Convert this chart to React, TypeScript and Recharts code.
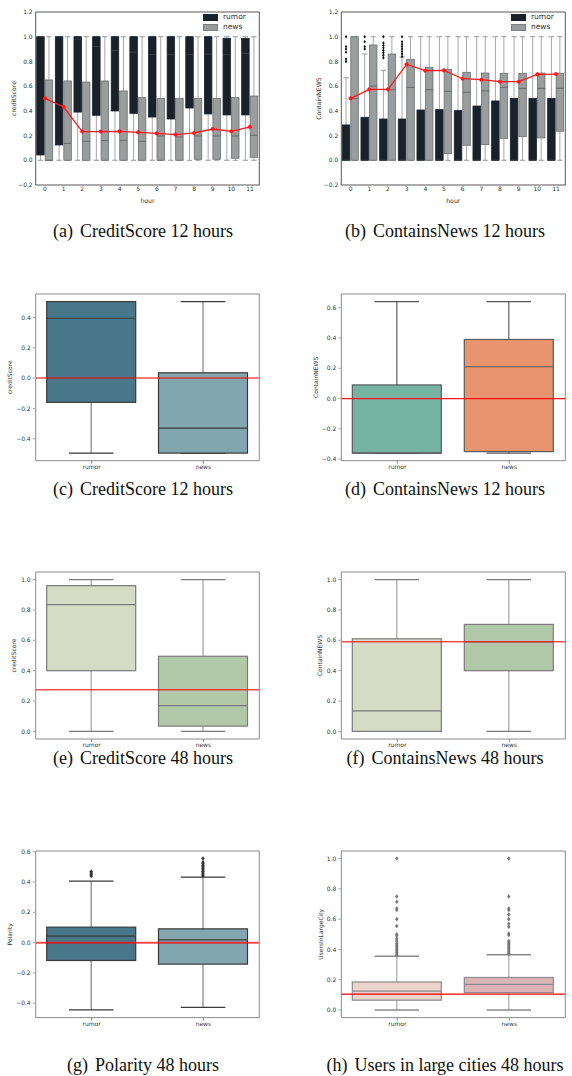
import React from 'react';
import { ComposedChart, Bar, Line, XAxis, YAxis, ReferenceLine, Legend } from 'recharts';

const FONT = '"DejaVu Sans", sans-serif';
const SERIF = '"Liberation Serif", "Times New Roman", serif';

// ---------- hourly panels (a) and (b) ----------
const HOURS = ['0', '1', '2', '3', '4', '5', '6', '7', '8', '9', '10', '11'];

// (a) creditScore over 12 hours
const A_RUMOR_LO = [0, 0, 0, 0, 0, 0, 0, 0, 0, 0, 0, 0];
const A_RUMOR_Q1 = [0.043, 0.124, 0.39, 0.364, 0.399, 0.38, 0.35, 0.334, 0.423, 0.375, 0.367, 0.367];
const A_RUMOR_MED = [1.0, 1.0, 0.98, 0.92, 0.89, 0.875, 0.855, 0.855, 0.855, 0.86, 0.855, 0.865];
const A_RUMOR_Q3 = [1, 1, 1, 1, 1, 1, 1, 1, 1, 1, 0.987, 0.987];
const A_RUMOR_HI = [1, 1, 1, 1, 1, 1, 1, 1, 1, 1, 1, 1];
const A_NEWS_LO = [0, 0, 0, 0, 0, 0, 0, 0, 0, 0, 0, 0];
const A_NEWS_Q1 = [0, 0, 0, 0, 0, 0, 0, 0, 0.008, 0.008, 0.016, 0.024];
const A_NEWS_MED = [0.0, 0.137, 0.154, 0.159, 0.162, 0.154, 0.197, 0.189, 0.197, 0.197, 0.197, 0.202];
const A_NEWS_Q3 = [0.65, 0.642, 0.633, 0.642, 0.561, 0.507, 0.501, 0.501, 0.501, 0.501, 0.507, 0.52];
const A_NEWS_HI = [1, 1, 1, 1, 1, 1, 1, 1, 1, 1, 1, 1];
const A_MEAN = [0.501, 0.431, 0.232, 0.232, 0.234, 0.226, 0.218, 0.208, 0.221, 0.253, 0.234, 0.27];

// (b) ContainNEWS over 12 hours
const B_RUMOR_LO = [0, 0, 0, 0, 0, 0, 0, 0, 0, 0, 0, 0];
const B_RUMOR_Q1 = [0, 0, 0, 0, 0, 0, 0, 0, 0, 0, 0, 0];
const B_RUMOR_MED = [0, 0, 0, 0, 0, 0, 0, 0, 0, 0, 0, 0];
const B_RUMOR_Q3 = [0.286, 0.348, 0.334, 0.334, 0.407, 0.41, 0.402, 0.439, 0.48, 0.501, 0.501, 0.501];
const B_RUMOR_HI = [0.668, 0.86, 0.728, 0.835, 1, 1, 1, 1, 1, 1, 1, 1];
const B_RUMOR_OUT = [
  [0.8, 0.82, 0.875, 0.9, 0.92, 1.0],
  [0.9, 0.92, 0.96, 1.0],
  [0.83, 0.85, 0.87, 0.89, 0.91, 0.93, 0.95, 1.0],
  [0.84, 0.86, 0.88, 0.9, 0.92, 0.94, 0.96, 1.0],
  [], [], [], [], [], [], [], [],
];
const B_NEWS_LO = [0, 0, 0, 0, 0, 0, 0, 0, 0, 0, 0, 0];
const B_NEWS_Q1 = [0, 0, 0, 0, 0, 0.054, 0.121, 0.127, 0.178, 0.191, 0.181, 0.235];
const B_NEWS_MED = [0.501, 0.601, 0.571, 0.59, 0.571, 0.558, 0.55, 0.561, 0.59, 0.582, 0.582, 0.582];
const B_NEWS_Q3 = [1.0, 0.933, 0.86, 0.817, 0.752, 0.736, 0.712, 0.706, 0.704, 0.704, 0.706, 0.704];
const B_NEWS_HI = [1, 1, 1, 1, 1, 1, 1, 1, 1, 1, 1, 1];
const B_MEAN = [0.501, 0.574, 0.574, 0.776, 0.725, 0.728, 0.66, 0.652, 0.636, 0.636, 0.695, 0.698];

const HOUR_TICKS = [-0.2, 0, 0.2, 0.4, 0.6, 0.8, 1.0, 1.2];

// ---------- two-group panels (c)-(h): [lo, q1, median, q3, hi] ----------
const GROUPS = ['rumor', 'news'];

const C_RUMOR = [-0.495, -0.16, 0.395, 0.505, 0.505];
const C_NEWS = [-0.495, -0.495, -0.33, 0.035, 0.505];
const C_REF = 0.0;
const C_TICKS = [-0.4, -0.2, 0, 0.2, 0.4];

const D_RUMOR = [-0.36, -0.36, -0.36, 0.09, 0.64];
const D_NEWS = [-0.36, -0.35, 0.21, 0.39, 0.64];
const D_REF = 0.0;
const D_TICKS = [-0.4, -0.2, 0, 0.2, 0.4, 0.6];

const E_RUMOR = [0, 0.4, 0.835, 0.96, 1.0];
const E_NEWS = [0, 0.035, 0.17, 0.495, 1.0];
const E_REF = 0.275;

const F_RUMOR = [0, 0, 0.135, 0.61, 1.0];
const F_NEWS = [0, 0.4, 0.59, 0.705, 1.0];
const F_REF = 0.59;

const UNIT_TICKS = [0, 0.2, 0.4, 0.6, 0.8, 1.0];

const G_RUMOR = [-0.444, -0.118, 0.043, 0.102, 0.406];
const G_NEWS = [-0.428, -0.142, 0.018, 0.091, 0.432];
const G_RUMOR_OUT = [0.44, 0.45, 0.46, 0.47];
const G_NEWS_OUT = [0.44, 0.45, 0.46, 0.47, 0.48, 0.49, 0.5, 0.51, 0.52, 0.53, 0.555];
const G_REF = 0.0;
const G_TICKS = [-0.4, -0.2, 0, 0.2, 0.4, 0.6];

const H_RUMOR = [0, 0.065, 0.125, 0.185, 0.355];
const H_NEWS = [0, 0.115, 0.17, 0.215, 0.365];
const H_RUMOR_OUT = [1.0, 0.75, 0.715, 0.67, 0.66, 0.6, 0.555, 0.5, 0.49, 0.47, 0.455, 0.44, 0.43, 0.42, 0.41, 0.4, 0.39, 0.38, 0.37, 0.36];
const H_NEWS_OUT = [1.0, 0.75, 0.67, 0.66, 0.63, 0.6, 0.57, 0.55, 0.505, 0.495, 0.455, 0.445, 0.435, 0.425, 0.415, 0.405, 0.395, 0.385, 0.375, 0.37];
const H_REF = 0.105;

// ---------- drawing helpers ----------
type Look = {
  fills: string[];
  edges: string[];
  medians: string[];
  whisker: string;
  cap: string;
  capFrac: number;
  whiskerW: number;
  edgeW: number;
  flier: string;
  flierR: number;
};

type Stats = { lo: number; q1: number; med: number; q3: number; hi: number; out: number[] };

const toStats = (s: number[], out: number[] = []): Stats => ({
  lo: s[0], q1: s[1], med: s[2], q3: s[3], hi: s[4], out,
});

const fmt = (v: number) => {
  const t = (Math.abs(v) < 1e-9 ? 0 : v).toFixed(1);
  return t.replace('-', '\u2212');
};

// the bar is a range [lo, hi]; box parts are placed on the same linear scale
const drawBox = (statsKey: string, look: Look, fixedColor?: number) => (props: any) => {
  const { x, y, width, height, payload, index } = props;
  const s: Stats = payload && payload[statsKey];
  if (!s || !isFinite(y) || !isFinite(height)) return <g />;
  const ci = fixedColor != null ? fixedColor : index;
  const top = Math.min(y, y + height);
  const bot = Math.max(y, y + height);
  const py = (v: number) => bot - ((v - s.lo) / (s.hi - s.lo)) * (bot - top);
  const cx = x + width / 2;
  const ch = (width * look.capFrac) / 2;
  const r = look.flierR;
  return (
    <g>
      <line x1={cx} x2={cx} y1={py(s.hi)} y2={py(s.q3)} stroke={look.whisker} strokeWidth={look.whiskerW} />
      <line x1={cx} x2={cx} y1={py(s.q1)} y2={py(s.lo)} stroke={look.whisker} strokeWidth={look.whiskerW} />
      <line x1={cx - ch} x2={cx + ch} y1={py(s.hi)} y2={py(s.hi)} stroke={look.cap} strokeWidth={look.whiskerW} />
      <line x1={cx - ch} x2={cx + ch} y1={py(s.lo)} y2={py(s.lo)} stroke={look.cap} strokeWidth={look.whiskerW} />
      <rect
        x={x}
        y={py(s.q3)}
        width={width}
        height={Math.max(0.5, py(s.q1) - py(s.q3))}
        fill={look.fills[ci]}
        stroke={look.edges[ci]}
        strokeWidth={look.edgeW}
      />
      <line x1={x} x2={x + width} y1={py(s.med)} y2={py(s.med)} stroke={look.medians[ci]} strokeWidth={look.edgeW} />
      {s.out.map((v, k) => {
        const oy = py(v);
        return (
          <path
            key={k}
            d={`M${cx},${oy - r} L${cx + r * 0.75},${oy} L${cx},${oy + r} L${cx - r * 0.75},${oy} Z`}
            fill={look.flier}
          />
        );
      })}
    </g>
  );
};

const HOUR_LOOK: Look = {
  fills: ['#1b2128', '#999d9d'],
  edges: ['#1b2128', '#6c7070'],
  medians: ['#3f474e', '#5a5f5f'],
  whisker: '#a6a6a6',
  cap: '#9a9a9a',
  capFrac: 0.7,
  whiskerW: 1,
  edgeW: 0.8,
  flier: '#111',
  flierR: 1.7,
};

const seaLook = (fills: string[], edge: string, whisker: string, flier = '#333'): Look => ({
  fills,
  edges: [edge, edge],
  medians: [edge, edge],
  whisker,
  cap: edge,
  capFrac: 0.5,
  whiskerW: 1.3,
  edgeW: 1.2,
  flier,
  flierR: 2.3,
});

const tickStyle = { fontSize: 6, fill: '#333', fontFamily: FONT };

// ---------- panels ----------
type Frame = { col: number; L: number; T: number; R: number; B: number };

const HourLegend = ({ payload }: any) => {
  const items = GROUPS.map((g) => (payload || []).find((p: any) => p.value === g)).filter(Boolean);
  return (
    <div style={{ fontFamily: FONT, fontSize: 7.5, color: '#333', lineHeight: '10.4px' }}>
      {items.map((p: any) => (
        <div key={p.value} style={{ display: 'flex', alignItems: 'center', height: 10.4 }}>
          <span
            style={{
              display: 'inline-block',
              width: 15,
              height: 7,
              background: p.color,
              boxSizing: 'border-box',
              border: p.value === 'news' ? '0.8px solid #7a7e7e' : 'none',
              marginRight: 5,
            }}
          />
          <span>{p.value}</span>
        </div>
      ))}
    </div>
  );
};

// invisible series that keeps the top / right frame axes alive
const FrameKeeper = (key: string) => (
  <Line
    xAxisId="top"
    yAxisId="right"
    dataKey={key}
    stroke="none"
    dot={false}
    activeDot={false}
    legendType="none"
    isAnimationActive={false}
  />
);

function HourPanel(props: {
  f: Frame;
  rumor: number[][];
  news: number[][];
  rumorOut?: number[][];
  mean: number[];
  yLabel: string;
  yLabelX: number;
  legendX: number;
}) {
  const { f, rumor, news, rumorOut, mean, yLabel, yLabelX, legendX } = props;
  const data = HOURS.map((h, i) => ({
    hour: h,
    rumor: [rumor[0][i], rumor[4][i]],
    news: [news[0][i], news[4][i]],
    rumorStats: toStats(rumor.map((a) => a[i]), rumorOut ? rumorOut[i] : []),
    newsStats: toStats(news.map((a) => a[i])),
    mean: mean[i],
  }));
  const xh = 18;
  const height = 12 + (f.B - f.T) + xh;
  const frame = { stroke: '#444', strokeWidth: 0.9 };
  return (
    <div style={{ position: 'absolute', left: f.col, top: f.T - 12 }}>
      <ComposedChart
        width={286}
        height={height}
        data={data}
        margin={{ top: 11, right: f.col + 286 - f.R - 1, left: 0, bottom: 0 }}
        barGap={1}
        barSize={7.5}
      >
        <XAxis
          dataKey="hour"
          height={xh}
          tick={tickStyle}
          tickLine={false}
          tickSize={0}
          tickMargin={2}
          axisLine={frame}
          interval={0}
          label={{ value: 'hour', position: 'insideBottom', offset: 0, style: { fontSize: 6.2, fill: '#333', fontFamily: FONT } }}
        />
        <XAxis xAxisId="top" dataKey="hour" orientation="top" height={1} tick={false} tickLine={false} axisLine={frame} />
        <YAxis
          width={f.L - f.col}
          domain={[-0.2, 1.2]}
          allowDataOverflow
          ticks={HOUR_TICKS}
          tickFormatter={fmt}
          tick={tickStyle}
          tickLine={false}
          tickSize={0}
          tickMargin={3}
          axisLine={frame}
          label={{
            value: yLabel,
            angle: -90,
            position: 'insideLeft',
            offset: yLabelX - f.col,
            style: { textAnchor: 'middle', fontSize: 6.2, fill: '#333', fontFamily: FONT },
          }}
        />
        <YAxis yAxisId="right" type="number" domain={[-0.2, 1.2]} orientation="right" width={1} tick={false} tickLine={false} axisLine={frame} />
        <Legend
          layout="vertical"
          align="center"
          verticalAlign="middle"
          content={<HourLegend />}
          wrapperStyle={{ left: legendX - f.col, top: 12, width: 'auto', height: 'auto' }}
        />
        <Bar dataKey="rumor" name="rumor" fill={HOUR_LOOK.fills[0]} shape={drawBox('rumorStats', HOUR_LOOK, 0)} isAnimationActive={false} />
        <Bar dataKey="news" name="news" fill={HOUR_LOOK.fills[1]} shape={drawBox('newsStats', HOUR_LOOK, 1)} isAnimationActive={false} />
        {FrameKeeper('mean')}
        <Line
          dataKey="mean"
          name="mean"
          stroke="#ff1a1a"
          strokeWidth={1.3}
          legendType="none"
          dot={{ r: 1.8, fill: '#ff1a1a', stroke: '#ff1a1a', strokeWidth: 0.5 }}
          isAnimationActive={false}
        />
      </ComposedChart>
    </div>
  );
}

function GroupPanel(props: {
  f: Frame;
  rumor: number[];
  news: number[];
  rumorOut?: number[];
  newsOut?: number[];
  refY: number;
  refColor?: string;
  refWidth?: number;
  domain: number[];
  ticks: number[];
  look: Look;
  yLabel: string;
  yLabelX: number;
}) {
  const { f, rumor, news, rumorOut, newsOut, refY, refColor, refWidth, domain, ticks, look, yLabel, yLabelX } = props;
  const summaries = [rumor, news];
  const outs = [rumorOut || [], newsOut || []];
  const data = GROUPS.map((g, i) => ({
    name: g,
    range: [summaries[i][0], summaries[i][4]],
    med: summaries[i][2],
    stats: toStats(summaries[i], outs[i]),
  }));
  const xh = 14;
  const height = 12 + (f.B - f.T) + xh;
  const frame = { stroke: '#8a8a8a', strokeWidth: 1 };
  return (
    <div style={{ position: 'absolute', left: f.col, top: f.T - 12 }}>
      <ComposedChart
        width={286}
        height={height}
        data={data}
        margin={{ top: 11, right: f.col + 286 - f.R - 1, left: 0, bottom: 0 }}
        barSize={89}
      >
        <XAxis
          dataKey="name"
          height={xh}
          tick={tickStyle}
          tickSize={3}
          tickMargin={1}
          tickLine={{ stroke: '#888' }}
          axisLine={frame}
        />
        <XAxis xAxisId="top" dataKey="name" orientation="top" height={1} tick={false} tickLine={false} axisLine={frame} />
        <YAxis
          width={f.L - f.col}
          domain={domain}
          allowDataOverflow
          ticks={ticks}
          tickFormatter={fmt}
          tick={tickStyle}
          tickSize={3}
          tickMargin={2}
          tickLine={{ stroke: '#aaa' }}
          axisLine={frame}
          label={{
            value: yLabel,
            angle: -90,
            position: 'insideLeft',
            offset: yLabelX - f.col,
            style: { textAnchor: 'middle', fontSize: 6, fill: '#333', fontFamily: FONT },
          }}
        />
        <YAxis yAxisId="right" type="number" domain={domain} allowDataOverflow orientation="right" width={1} tick={false} tickLine={false} axisLine={frame} />
        <Bar dataKey="range" fill={look.fills[0]} shape={drawBox('stats', look)} isAnimationActive={false} />
        {FrameKeeper('med')}
        <ReferenceLine y={refY} stroke={refColor || 'rgba(255,0,0,0.7)'} strokeWidth={refWidth || 1.5} />
      </ComposedChart>
    </div>
  );
}

const Caption = ({ tag, text, cx, cy }: { tag: string; text: string; cx: number; cy: number }) => (
  <div
    style={{
      position: 'absolute',
      left: cx - 160,
      width: 320,
      top: cy - 11,
      height: 22,
      lineHeight: '22px',
      textAlign: 'center',
      fontFamily: SERIF,
      fontSize: 18,
      color: '#111',
      whiteSpace: 'nowrap',
    }}
  >
    <span style={{ marginRight: 7 }}>{tag}</span>
    {text}
  </div>
);

export default function App() {
  const A_RUMOR = [A_RUMOR_LO, A_RUMOR_Q1, A_RUMOR_MED, A_RUMOR_Q3, A_RUMOR_HI];
  const A_NEWS = [A_NEWS_LO, A_NEWS_Q1, A_NEWS_MED, A_NEWS_Q3, A_NEWS_HI];
  const B_RUMOR = [B_RUMOR_LO, B_RUMOR_Q1, B_RUMOR_MED, B_RUMOR_Q3, B_RUMOR_HI];
  const B_NEWS = [B_NEWS_LO, B_NEWS_Q1, B_NEWS_MED, B_NEWS_Q3, B_NEWS_HI];

  const lookC = seaLook(['#48778a', '#82a6b0'], '#3a3a3a', '#8a8a8a');
  const lookD = seaLook(['#74b4a0', '#e8956f'], '#5a5a5a', '#6a6a6a');
  const lookE = seaLook(['#d6dbc6', '#b1c9a8'], '#7a7a7a', '#a8a8a8');
  const lookH = seaLook(['#ebd3ce', '#dcb4b7'], '#8a8a8a', '#b0b0b0', '#777');

  const left = (T: number, B: number): Frame => ({ col: 0, L: 35.7, T, R: 259.3, B });
  const right = (T: number, B: number): Frame => ({ col: 286, L: 341.3, T, R: 565.3, B });

  return (
    <div style={{ position: 'absolute', left: 0, top: 0, width: 572, height: 1076, background: '#fff', overflow: 'hidden' }}>
      <HourPanel f={left(12, 185)} rumor={A_RUMOR} news={A_NEWS} mean={A_MEAN} yLabel="creditScore" yLabelX={14} legendX={203} />
      <HourPanel
        f={right(12, 185)}
        rumor={B_RUMOR}
        news={B_NEWS}
        rumorOut={B_RUMOR_OUT}
        mean={B_MEAN}
        yLabel="ContainNEWS"
        yLabelX={319}
        legendX={511}
      />
      <Caption tag="(a)" text="CreditScore 12 hours" cx={143} cy={231} />
      <Caption tag="(b)" text="ContainsNews 12 hours" cx={445} cy={231} />

      <GroupPanel f={left(294.3, 461)} rumor={C_RUMOR} news={C_NEWS} refY={C_REF} domain={[-0.545, 0.555]} ticks={C_TICKS} look={lookC} yLabel="creditScore" yLabelX={10} />
      <GroupPanel f={right(294.3, 461)} rumor={D_RUMOR} news={D_NEWS} refY={D_REF} refColor="#ff1010" refWidth={1.2} domain={[-0.41, 0.69]} ticks={D_TICKS} look={lookD} yLabel="ContainNEWS" yLabelX={316} />
      <Caption tag="(c)" text="CreditScore 12 hours" cx={143} cy={489} />
      <Caption tag="(d)" text="ContainsNews 12 hours" cx={445} cy={489} />

      <GroupPanel f={left(572.3, 739.3)} rumor={E_RUMOR} news={E_NEWS} refY={E_REF} domain={[-0.05, 1.05]} ticks={UNIT_TICKS} look={lookE} yLabel="creditScore" yLabelX={14} />
      <GroupPanel f={right(572.3, 739.3)} rumor={F_RUMOR} news={F_NEWS} refY={F_REF} domain={[-0.05, 1.05]} ticks={UNIT_TICKS} look={lookE} yLabel="ContainNEWS" yLabelX={320} />
      <Caption tag="(e)" text="CreditScore 48 hours" cx={143} cy={758} />
      <Caption tag="(f)" text="ContainsNews 48 hours" cx={445} cy={758} />

      <GroupPanel
        f={left(850.7, 1017.3)}
        rumor={G_RUMOR}
        news={G_NEWS}
        rumorOut={G_RUMOR_OUT}
        newsOut={G_NEWS_OUT}
        refY={G_REF}
        refWidth={2}
        domain={[-0.495, 0.605]}
        ticks={G_TICKS}
        look={lookC}
        yLabel="Polarity"
        yLabelX={10}
      />
      <GroupPanel
        f={right(850.7, 1017.3)}
        rumor={H_RUMOR}
        news={H_NEWS}
        rumorOut={H_RUMOR_OUT}
        newsOut={H_NEWS_OUT}
        refY={H_REF}
        refColor="#ee0000"
        refWidth={1.2}
        domain={[-0.05, 1.05]}
        ticks={UNIT_TICKS}
        look={lookH}
        yLabel="UsersInLargeCity"
        yLabelX={321}
      />
      <Caption tag="(g)" text="Polarity 48 hours" cx={143} cy={1065} />
      <Caption tag="(h)" text="Users in large cities 48 hours" cx={445} cy={1065} />
    </div>
  );
}
